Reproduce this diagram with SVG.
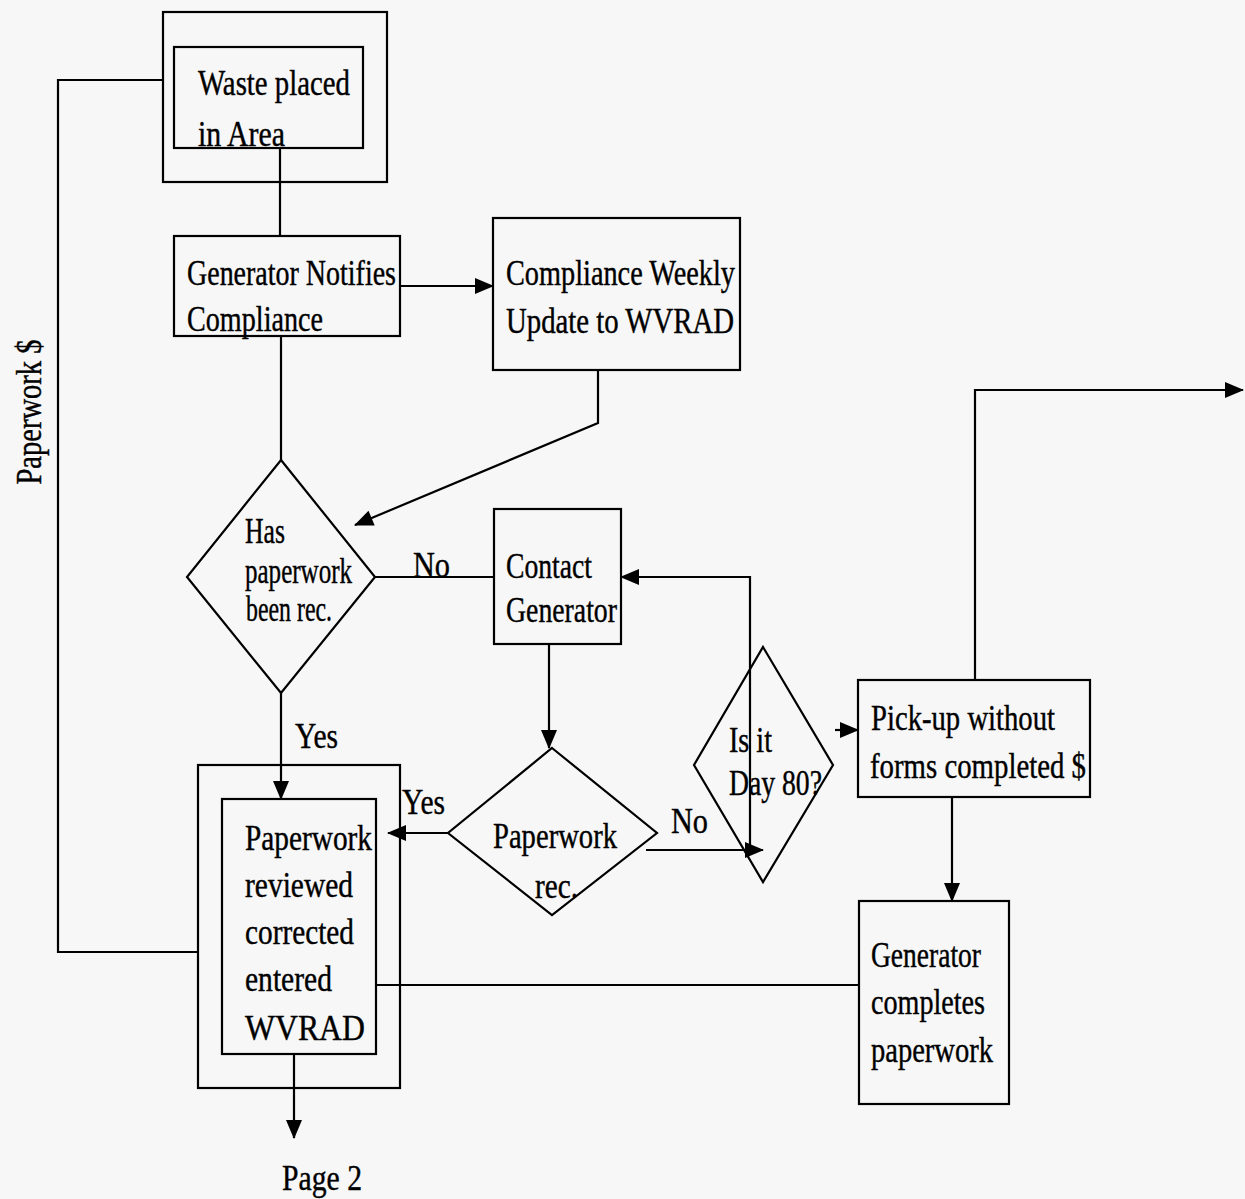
<svg xmlns="http://www.w3.org/2000/svg" width="1245" height="1199" viewBox="0 0 1245 1199">
<defs>
<style>
.b{fill:none;stroke:#000;stroke-width:2.2}
.c{fill:none;stroke:#000;stroke-width:2.2}
.t{font-family:"Liberation Serif","Times New Roman",serif;font-size:35px;fill:#000;stroke:#000;stroke-width:0.4}
</style>
<marker id="ah" markerUnits="userSpaceOnUse" markerWidth="22" markerHeight="20" refX="18" refY="10" orient="auto" overflow="visible">
<path d="M0,2 L19,10 L0,18 Z" fill="#000"/>
</marker>
</defs>
<rect width="1245" height="1199" fill="#f7f7f7"/>

<g id="connectors">
<path class="c" d="M280,148 V236"/>
<path class="c" d="M400,286 H493" marker-end="url(#ah)"/>
<path class="c" d="M281,336 V460"/>
<path class="c" d="M598,370 V423 L355,525" marker-end="url(#ah)"/>
<path class="c" d="M375,577 H494"/>
<path class="c" d="M549,644 V748" marker-end="url(#ah)"/>
<path class="c" d="M281,693 V799" marker-end="url(#ah)"/>
<path class="c" d="M448,833 H388" marker-end="url(#ah)"/>
<path class="c" d="M646,850 H763" marker-end="url(#ah)"/>
<path class="c" d="M750,850 V577 H621" marker-end="url(#ah)"/>
<path class="c" d="M835,730 H858" marker-end="url(#ah)"/>
<path class="c" d="M975,680 V390 H1243" marker-end="url(#ah)"/>
<path class="c" d="M952,797 V901" marker-end="url(#ah)"/>
<path class="c" d="M859,985 H376"/>
<path class="c" d="M294,1054 V1138" marker-end="url(#ah)"/>
<path class="c" d="M163,80 H58 V952 H198"/>
<text class="t" x="413" y="577" textLength="37" lengthAdjust="spacingAndGlyphs">No</text>
<text class="t" x="295" y="748" textLength="43" lengthAdjust="spacingAndGlyphs">Yes</text>
<text class="t" x="402" y="814" textLength="43" lengthAdjust="spacingAndGlyphs">Yes</text>
<text class="t" x="671" y="833" textLength="37" lengthAdjust="spacingAndGlyphs">No</text>
<text class="t" x="41" y="412" text-anchor="middle" textLength="145" lengthAdjust="spacingAndGlyphs" transform="rotate(-90 41 412)">Paperwork $</text>
<text class="t" x="282" y="1190" textLength="80" lengthAdjust="spacingAndGlyphs">Page 2</text>
</g>

<g id="waste">
<rect class="b" x="163" y="12" width="224" height="170"/>
<rect class="b" x="174" y="47" width="189" height="101"/>
<text class="t" x="198" y="95" textLength="152" lengthAdjust="spacingAndGlyphs">Waste placed</text>
<text class="t" x="198" y="146" textLength="87" lengthAdjust="spacingAndGlyphs">in Area</text>
</g>

<g id="gen-notifies">
<rect class="b" x="174" y="236" width="226" height="100"/>
<text class="t" x="187" y="285" textLength="209" lengthAdjust="spacingAndGlyphs">Generator Notifies</text>
<text class="t" x="187" y="331" textLength="136" lengthAdjust="spacingAndGlyphs">Compliance</text>
</g>

<g id="weekly">
<rect class="b" x="493" y="218" width="247" height="152"/>
<text class="t" x="506" y="285" textLength="229" lengthAdjust="spacingAndGlyphs">Compliance Weekly</text>
<text class="t" x="506" y="333" textLength="228" lengthAdjust="spacingAndGlyphs">Update to WVRAD</text>
</g>

<g id="has-paperwork">
<polygon class="b" points="281,460 375,577 281,693 187,577"/>
<text class="t" x="245" y="543" textLength="40" lengthAdjust="spacingAndGlyphs">Has</text>
<text class="t" x="245" y="583" textLength="107" lengthAdjust="spacingAndGlyphs">paperwork</text>
<text class="t" x="246" y="621" textLength="86" lengthAdjust="spacingAndGlyphs">been rec.</text>
</g>

<g id="contact">
<rect class="b" x="494" y="509" width="127" height="135"/>
<text class="t" x="506" y="578" textLength="86" lengthAdjust="spacingAndGlyphs">Contact</text>
<text class="t" x="506" y="622" textLength="111" lengthAdjust="spacingAndGlyphs">Generator</text>
</g>

<g id="paperwork-rec">
<polygon class="b" points="552,748 657,833 552,915 448,833"/>
<text class="t" x="493" y="848" textLength="124" lengthAdjust="spacingAndGlyphs">Paperwork</text>
<text class="t" x="535" y="898" textLength="43" lengthAdjust="spacingAndGlyphs">rec.</text>
</g>

<g id="day80">
<polygon class="b" points="763,647 833,765 763,882 694,765"/>
<text class="t" x="729" y="752" textLength="43" lengthAdjust="spacingAndGlyphs">Is it</text>
<text class="t" x="729" y="795" textLength="93" lengthAdjust="spacingAndGlyphs">Day 80?</text>
</g>

<g id="pickup">
<rect class="b" x="858" y="680" width="232" height="117"/>
<text class="t" x="871" y="730" textLength="184" lengthAdjust="spacingAndGlyphs">Pick-up without</text>
<text class="t" x="870" y="778" textLength="216" lengthAdjust="spacingAndGlyphs">forms completed $</text>
</g>

<g id="gen-completes">
<rect class="b" x="859" y="901" width="150" height="203"/>
<text class="t" x="871" y="967" textLength="110" lengthAdjust="spacingAndGlyphs">Generator</text>
<text class="t" x="871" y="1014" textLength="114" lengthAdjust="spacingAndGlyphs">completes</text>
<text class="t" x="871" y="1062" textLength="122" lengthAdjust="spacingAndGlyphs">paperwork</text>
</g>

<g id="review">
<rect class="b" x="198" y="765" width="202" height="323"/>
<rect class="b" x="222" y="799" width="154" height="255"/>
<text class="t" x="245" y="850" textLength="127" lengthAdjust="spacingAndGlyphs">Paperwork</text>
<text class="t" x="245" y="897" textLength="108" lengthAdjust="spacingAndGlyphs">reviewed</text>
<text class="t" x="245" y="944" textLength="109" lengthAdjust="spacingAndGlyphs">corrected</text>
<text class="t" x="245" y="991" textLength="87" lengthAdjust="spacingAndGlyphs">entered</text>
<text class="t" x="245" y="1040" textLength="120" lengthAdjust="spacingAndGlyphs">WVRAD</text>
</g>
</svg>
